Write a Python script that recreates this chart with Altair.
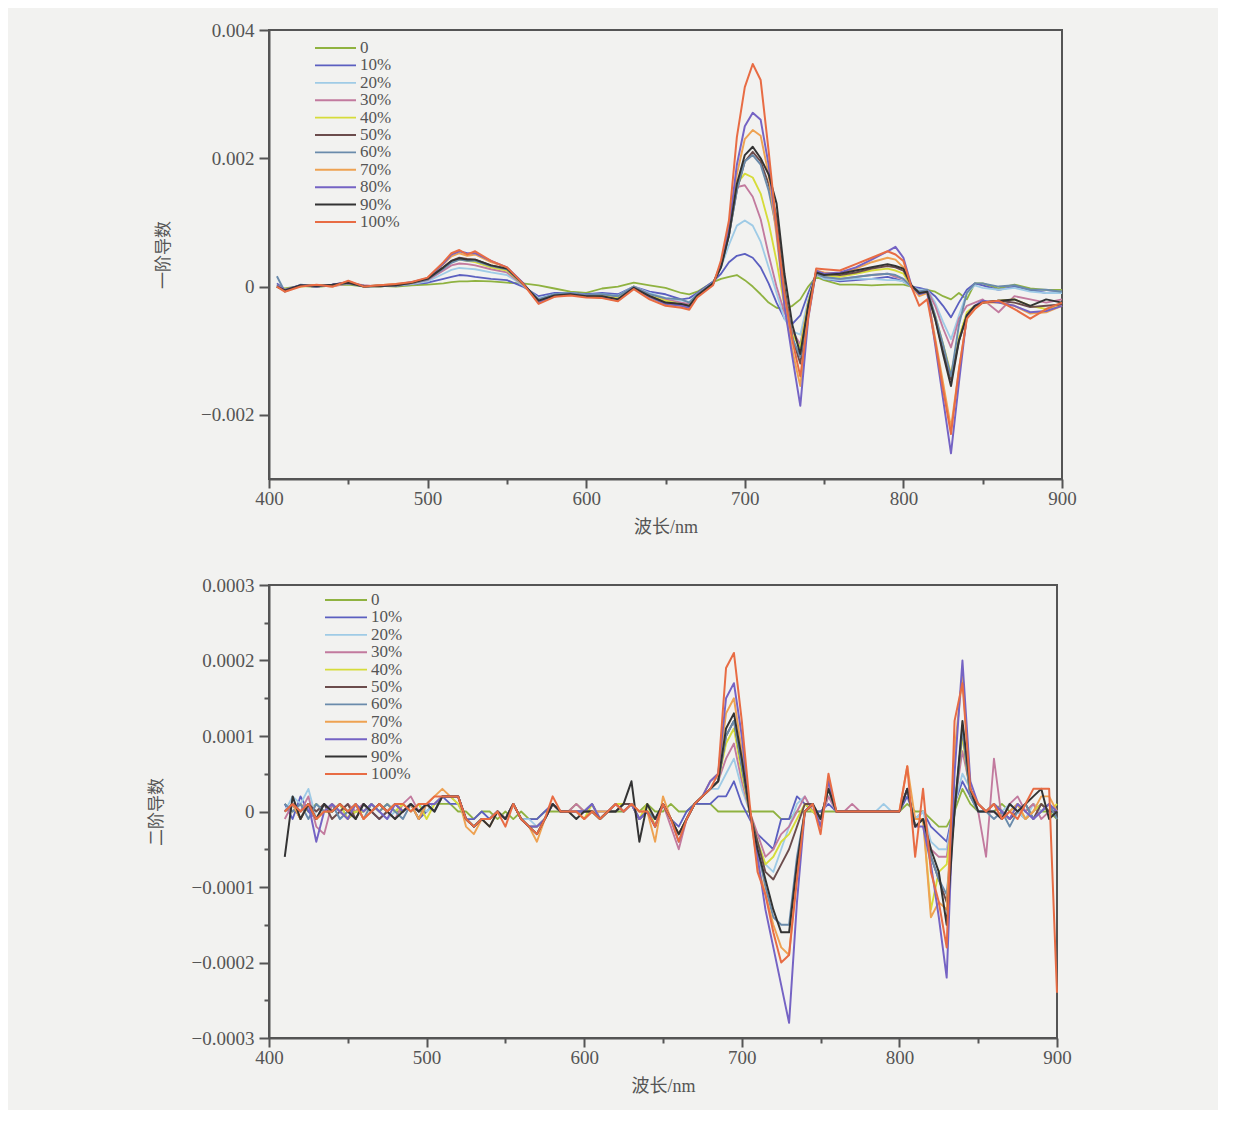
import altair as alt
import pandas as pd

# ---------------- series ----------------
series = ["0", "10%", "20%", "30%", "40%", "50%", "60%", "70%", "80%", "90%", "100%"]
colors = ["#8fb240", "#5b5fc0", "#9fcbe6", "#c27a9e", "#d6dc3a", "#6b4c4c",
          "#6a8bab", "#eea252", "#7563c4", "#333333", "#e86c44"]
widths = [1.8, 2.0, 1.8, 1.8, 1.8, 2.8, 2.0, 2.0, 2.2, 3.0, 2.0]

# ---------------- first derivative (units of 1e-5) ----------------
wl_top = [405, 410, 420, 430, 440, 450, 460, 470, 480, 490,
          500, 510, 515, 520, 525, 530,
          540, 550, 560, 570, 580, 590, 600, 610, 620, 630, 640, 650, 660,
          665, 670, 680,
          685, 690, 695, 700, 705, 710, 715, 720, 725, 730, 735, 740, 745,
          750, 760, 770, 780, 790,
          795, 800, 805, 810, 815, 820, 825, 830, 835, 840, 845, 850,
          860, 870, 880, 890, 900]

t0 = [2, -3, 1, -1, 2, 3, 0, 1, 0, 2, 3, 5, 7, 8, 8, 9,
      8, 6, 5, 2, -3, -8, -10, -3, 0, 6, 2, -2, -10, -12, -8, 7,
      12, 15, 18, 10, 0, -12, -25, -33, -35, -30, -20, 0, 15, 10, 3, 3, 2, 3,
      3, 3, 0, -5, -5, -8, -15, -20, -10, -20, 5, 5, -3, 3, -3, -5, -5]
t10 = [5, -5, 2, 0, 3, 5, 0, 2, 1, 4, 6, 12, 15, 18, 17, 15,
       12, 10, 0, -15, -10, -10, -12, -10, -12, 0, -8, -12, -20, -18, -10, 8,
       20, 38, 48, 51, 45, 30, 5, -25, -50, -58, -45, -10, 20, 12, 8, 10, 12, 15,
       12, 8, 0, -2, -5, -15, -30, -48, -25, -5, 5, 2, -5, 0, -5, -10, -8]
t20 = [0, -6, 2, 0, 2, 6, 0, 1, 2, 4, 8, 20, 26, 29, 28, 27,
       22, 18, 2, -18, -12, -10, -13, -12, -14, 0, -10, -18, -22, -24, -12, 6,
       30, 65, 95, 103, 95, 70, 30, -10, -50, -70, -75, -20, 20, 12, 10, 12, 12, 10,
       10, 8, 0, -5, -5, -25, -55, -82, -45, -10, 2, -2, -5, -2, -8, -10, -10]
t30 = [0, -5, 1, 2, 0, 5, 2, 0, 3, 5, 10, 25, 33, 36, 35, 33,
       27, 22, 3, -20, -13, -12, -15, -13, -16, 0, -12, -20, -25, -27, -12, 5,
       35, 95, 155, 158, 140, 105, 50, 0, -40, -70, -90, -25, 20, 15, 12, 15, 18, 20,
       15, 12, 0, -8, -5, -30, -65, -95, -50, -30, -25, -20, -40, -15, -20, -25, -20]
t40 = [2, -4, 0, 2, 1, 6, 1, 0, 3, 6, 12, 30, 38, 42, 40, 38,
       30, 25, 4, -22, -14, -12, -15, -15, -18, 0, -14, -22, -28, -30, -13, 5,
       35, 85, 160, 176, 170, 145, 100, 40, -30, -75, -95, -25, 22, 18, 15, 20, 25, 28,
       25, 20, 0, -10, -8, -45, -90, -136, -80, -40, -30, -25, -22, -20, -30, -35, -30]
t50 = [0, -6, 2, 0, 3, 7, 0, 2, 2, 6, 12, 30, 40, 45, 43, 42,
       33, 28, 5, -23, -15, -12, -15, -16, -20, -2, -15, -25, -28, -32, -14, 5,
       32, 80, 150, 195, 210, 195, 160, 110, 0, -80, -120, -30, 22, 20, 18, 22, 28, 32,
       30, 25, 2, -10, -8, -50, -100, -145, -85, -45, -30, -25, -22, -25, -32, -30, -28]
t60 = [16, -8, 3, 1, 2, 5, 1, 0, 3, 5, 11, 28, 37, 42, 40, 40,
       32, 27, 4, -20, -12, -10, -13, -12, -15, 0, -12, -18, -20, -25, -12, 5,
       32, 80, 150, 195, 205, 190, 150, 90, -10, -80, -110, -30, 20, 15, 12, 15, 18, 20,
       18, 12, 0, -8, -5, -45, -90, -140, -60, -10, 5, 5, 0, 2, -5, -5, -8]
t70 = [0, -7, 1, 2, 0, 8, 0, 2, 4, 6, 13, 35, 47, 52, 48, 50,
       38, 30, 5, -25, -15, -13, -16, -17, -22, -3, -17, -28, -30, -34, -15, 4,
       33, 85, 175, 230, 244, 235, 175, 80, -30, -100, -155, -45, 25, 22, 20, 28, 38, 45,
       42, 30, 0, -15, -10, -80, -150, -220, -130, -50, -35, -25, -25, -30, -42, -40, -30]
t80 = [2, -5, 2, 0, 3, 7, 1, 1, 3, 7, 13, 36, 50, 55, 52, 52,
       40, 30, 6, -25, -15, -12, -15, -17, -20, -2, -16, -27, -30, -33, -15, 4,
       35, 90, 190, 250, 271, 260, 190, 90, -30, -110, -186, -50, 25, 20, 22, 30, 42, 55,
       62, 45, 2, -12, -8, -90, -175, -260, -150, -45, -30, -22, -25, -30, -40, -38, -30]
t90 = [0, -6, 2, 1, 3, 6, 0, 1, 2, 6, 12, 30, 40, 44, 42, 42,
       33, 28, 5, -22, -14, -12, -15, -15, -20, -2, -15, -25, -27, -30, -14, 5,
       30, 80, 160, 205, 218, 200, 175, 130, 20, -60, -105, -30, 22, 18, 20, 25, 30, 35,
       32, 28, 2, -10, -8, -50, -105, -155, -85, -45, -30, -25, -22, -20, -30, -20, -25]
t100 = [0, -8, 0, 3, 0, 9, 0, 2, 4, 7, 14, 38, 52, 57, 50, 55,
        40, 30, 5, -27, -16, -14, -17, -18, -23, -4, -20, -30, -33, -36, -17, 2,
        41, 103, 233, 311, 347, 322, 212, 93, -11, -84, -140, -48, 28, 27, 25, 35, 45, 55,
        50, 40, 0, -30, -20, -85, -160, -230, -130, -50, -35, -25, -22, -35, -50, -35, -25]
top_vals = [t0, t10, t20, t30, t40, t50, t60, t70, t80, t90, t100]

# ---------------- second derivative (units of 1e-5) ----------------
wl_bottom = [410, 415, 420, 425, 430, 435, 440, 445, 450, 455,
             460, 465, 470, 475, 480, 485, 490, 495, 500, 505,
             510, 515, 520, 525, 530, 535, 540, 545, 550, 555,
             560, 565, 570, 575, 580, 585, 590, 595, 600, 605,
             610, 615, 620, 625, 630, 635, 640, 645, 650, 655,
             660, 665, 670, 675, 680, 685, 690, 695, 700, 705,
             710, 715, 720, 725, 730, 735, 740, 745, 750, 755,
             760, 765, 770, 775, 780, 785, 790, 795, 800, 805,
             810, 815, 820, 825, 830, 835, 840, 845, 850, 855,
             860, 865, 870, 875, 880, 885, 890, 895, 900]

b0 = [1, 0, 1, 0, 1, 0, 0, 1, 0, 0,
      0, 1, 0, 1, 0, 0, 1, 0, 0, 1,
      1, 1, 0, 0, -1, 0, 0, -1, 0, -1,
      0, -1, -1, 0, 0, 0, 0, 1, 0, 0,
      -1, 0, 0, 0, 1, 0, 1, 0, 0, 1,
      0, 0, 1, 1, 1, 0, 0, 0, 0, 0,
      0, 0, 0, -1, -1, 0, 0, 0, 0, 0,
      0, 0, 0, 0, 0, 0, 0, 0, 0, 1,
      0, 0, -1, -2, -2, 0, 3, 1, 0, 0,
      0, 1, 0, 1, 0, 1, 0, 0, -1]
b10 = [1, -1, 2, 0, -1, 1, 0, 1, -1, 0,
       1, 0, -1, 0, 1, 0, 1, -1, 0, 1,
       2, 1, 1, -1, -1, 0, -1, 0, -1, 1,
       -1, -1, -1, 0, 1, 0, 0, 0, -1, 0,
       0, 0, 1, 0, 1, -1, 0, -1, 1, -1,
       -2, 0, 1, 1, 1, 2, 2, 4, 1, -1,
       -3, -4, -5, -1, -1, 2, 1, 0, 0, 1,
       0, 0, 0, 0, 0, 0, 0, 0, 0, 2,
       -1, 0, -2, -3, -4, 1, 4, 2, 0, 0,
       0, -1, 1, 0, -1, 0, 1, 0, 0]
b20 = [0, 2, 1, 3, -1, 0, 1, -1, 0, 1,
       0, 1, 0, -1, 0, 1, 0, 1, 0, 1,
       2, 2, 1, -1, -2, -1, -1, 0, -1, 1,
       -1, -1, -2, -1, 1, 0, 0, 0, 0, 1,
       -1, 0, 0, 1, 1, -1, 0, -2, 1, -1,
       -3, -1, 1, 2, 3, 3, 5, 7, 3, 0,
       -4, -7, -8, -5, -2, 1, 2, 0, -1, 2,
       0, 0, 0, 0, 0, 0, 1, 0, 0, 3,
       -1, 0, -4, -5, -5, 1, 5, 3, 0, 0,
       1, 0, 1, 0, -1, 1, 0, 1, 0]
b30 = [-1, 1, 0, 2, -2, -3, 1, 0, 1, 0,
       1, 0, 1, 0, -1, 1, 2, 0, 1, 1,
       2, 2, 2, -1, -2, -1, -1, 0, -1, 1,
       -1, -2, -2, -1, 1, 0, 0, 1, 0, 1,
       -1, 0, 1, 0, 1, -1, 0, -2, 1, -2,
       -5, -1, 1, 2, 3, 4, 7, 9, 4, 0,
       -3, -6, -5, -3, -2, 0, 2, 0, -1, 2,
       0, 0, 1, 0, 0, 0, 0, 0, 0, 3,
       -2, -1, -5, -6, -6, 1, 8, 3, 0, -6,
       7, -1, 1, 2, 0, 1, -1, 0, 0]
b40 = [0, 1, 0, 1, -1, 0, 0, 1, -1, 0,
       0, 1, 0, 1, 0, 1, 0, 1, -1, 1,
       2, 2, 1, -1, -2, -1, -1, 0, -1, 1,
       -1, -2, -2, -1, 1, 0, 0, 0, -1, 1,
       -1, 0, 1, 1, 1, -1, 1, -2, 1, -1,
       -3, -1, 1, 2, 3, 4, 9, 11, 5, 0,
       -4, -7, -6, -4, -3, -1, 1, 0, -1, 3,
       0, 0, 0, 0, 0, 0, 0, 0, 0, 3,
       -2, -1, -13, -8, -7, 1, 10, 2, 1, 0,
       1, 0, -1, 1, -1, 0, 1, 0, 1]
b50 = [0, 1, -1, 1, 0, 1, -1, 0, 1, -1,
       1, 0, -1, 0, 1, 0, 1, -1, 1, 0,
       2, 2, 2, -1, -2, -1, -1, 0, -1, 1,
       -1, -2, -3, -1, 1, 0, 0, 0, 0, 0,
       -1, 0, 0, 1, 1, -1, 0, -2, 1, -1,
       -3, -1, 1, 2, 3, 4, 10, 12, 6, 0,
       -4, -8, -9, -7, -5, -2, 1, 1, -1, 3,
       0, 0, 0, 0, 0, 0, 0, 0, 0, 3,
       -2, -1, -6, -9, -12, 0, 11, 2, 1, 0,
       1, 0, -1, 0, 1, -1, 1, 0, 0]
b60 = [1, 0, 1, -1, 1, 0, 1, -1, 0, 1,
       -1, 1, 0, 1, 0, -1, 1, 0, 1, 0,
       2, 2, 2, -1, -2, -1, -1, 0, -1, 1,
       -1, -2, -2, -1, 1, 0, 0, 0, 0, 1,
       -1, 0, 1, 0, 1, -1, 0, -1, 1, -1,
       -3, -1, 1, 2, 3, 4, 10, 12, 6, 0,
       -5, -10, -14, -15, -15, -6, 0, 1, -1, 3,
       0, 0, 0, 0, 0, 0, 0, 0, 0, 3,
       -2, -1, -6, -9, -11, 0, 11, 2, 0, 0,
       -1, 0, -2, 0, 1, -1, 0, 1, -1]
b70 = [0, 1, -1, 1, -1, 0, 1, 0, -1, 1,
       -1, 0, 1, 0, 1, 0, 1, -1, 1, 2,
       3, 2, 2, -2, -3, -1, -2, 0, -1, 1,
       -1, -2, -4, -1, 1, 0, 0, 0, -1, 0,
       0, 0, 1, 0, 1, 0, 0, -4, 2, -1,
       -3, -1, 1, 2, 4, 5, 13, 15, 8, 0,
       -7, -11, -15, -18, -19, -8, 0, 1, -2, 4,
       0, 0, 0, 0, 0, 0, 0, 0, 0, 6,
       -1, -1, -14, -12, -13, 8, 18, 3, 1, 0,
       1, -1, 0, 1, -1, 0, 2, 2, 0]
b80 = [0, 1, 0, 1, -4, 0, 1, 0, -1, 1,
       0, 1, 0, -1, 1, 0, 1, 0, 1, 1,
       2, 2, 2, -1, -2, -1, -1, 0, -1, 1,
       -1, -2, -2, -1, 1, 0, 0, 0, 0, 1,
       -1, 0, 1, 0, 1, -1, 0, -2, 1, -1,
       -4, -1, 1, 2, 4, 5, 15, 17, 10, 0,
       -6, -13, -18, -23, -28, -12, 0, 1, -2, 4,
       0, 0, 0, 0, 0, 0, 0, 0, 0, 3,
       -2, -2, -7, -14, -22, 5, 20, 4, 1, 0,
       1, 0, -1, 1, 0, -1, 0, 1, 0]
b90 = [-6, 2, -1, 1, -1, 1, 0, 1, 0, -1,
       1, 0, 1, 0, -1, 0, 1, 0, 1, 0,
       2, 2, 2, -1, -2, -1, -2, 0, -1, 1,
       -1, -2, -3, -1, 1, 0, 0, -1, 0, 0,
       -1, 0, 0, 1, 4, -4, 1, -1, 1, -1,
       -3, -1, 1, 2, 3, 4, 11, 13, 7, 0,
       -5, -9, -13, -16, -16, -7, 0, 1, -1, 3,
       0, 0, 0, 0, 0, 0, 0, 0, 0, 3,
       -2, -1, -5, -8, -15, 0, 12, 3, 0, 0,
       0, -1, 1, 0, 1, 2, 3, -1, 0]
b100 = [0, 1, 0, 1, -1, 0, 0, 1, 0, 1,
        -1, 0, 1, 0, 1, 1, 0, 1, 1, 2,
        2, 2, 2, -1, -2, -1, -1, 0, -2, 1,
        -1, -2, -3, -1, 2, 0, 0, 0, -1, 0,
        -1, 0, 1, 0, 1, 0, 0, -2, 1, -1,
        -4, -1, 1, 2, 3, 5, 19, 21, 12, 1,
        -8, -11, -16, -20, -19, -9, 0, 1, -3, 5,
        0, 0, 0, 0, 0, 0, 0, 0, 0, 6,
        -6, 3, -8, -12, -18, 12, 17, 3, 1, 0,
        1, -1, 0, -1, 1, 3, 3, 3, -24]
bottom_vals = [b0, b10, b20, b30, b40, b50, b60, b70, b80, b90, b100]

# ---------------- axis tick values and labels ----------------
x_ticks = [400, 450, 500, 550, 600, 650, 700, 750, 800, 850, 900]
y_ticks_top = [-0.002, 0, 0.002, 0.004]
y_ticks_bottom = [-0.0003, -0.00025, -0.0002, -0.00015, -0.0001, -0.00005, 0,
                  0.00005, 0.0001, 0.00015, 0.0002, 0.00025, 0.0003]
x_title = "波长/nm"
y_title_top = "一阶导数"
y_title_bottom = "二阶导数"

SERIF = "Liberation Serif"
MIXED = "Liberation Serif, Noto Sans CJK SC"
AX = "#555555"


def long_df(wl, vals):
    rows = []
    for k, s in enumerate(series):
        for w, v in zip(wl, vals[k]):
            rows.append({"wl": w, "value": v * 1e-5, "series": s, "k": k})
    return pd.DataFrame(rows)


color_enc = alt.Color("series:N", scale=alt.Scale(domain=series, range=colors), legend=None)
width_enc = alt.StrokeWidth("series:N", scale=alt.Scale(domain=series, range=widths), legend=None)

x_axis = alt.Axis(
    values=x_ticks,
    labelExpr="datum.value % 100 === 0 ? format(datum.value, 'd') : ''",
    tickSize={"condition": {"test": "datum.value % 100 === 0", "value": 9}, "value": 5},
    title=x_title, titleFont=MIXED, titleFontSize=18, titleFontWeight="normal",
    titleColor=AX, titlePadding=10,
    labelFont=SERIF, labelFontSize=19, labelColor=AX, labelPadding=1,
    labelFlush=False, labelOverlap=False,
    domainColor=AX, domainWidth=2, tickColor=AX, tickWidth=2, grid=False,
)


def panel(df, ydom, yaxis, w, h, leg_y0, leg_x0, leg_x1, leg_tx):
    lines = alt.Chart(df).mark_line(strokeJoin="round").encode(
        x=alt.X("wl:Q", scale=alt.Scale(domain=[400, 900], nice=False, zero=False), axis=x_axis),
        y=alt.Y("value:Q", scale=alt.Scale(domain=ydom, nice=False, zero=False), axis=yaxis),
        color=color_enc,
        strokeWidth=width_enc,
        detail="k:O",
    )
    leg_df = pd.DataFrame({"series": series})
    ysc = alt.Scale(type="point", domain=series, range=[leg_y0, leg_y0 + 174], padding=0)
    rules = alt.Chart(leg_df).mark_rule().encode(
        x=alt.value(leg_x0), x2=alt.value(leg_x1),
        y=alt.Y("series:N", scale=ysc, axis=None),
        color=color_enc, strokeWidth=width_enc,
    )
    texts = alt.Chart(leg_df).mark_text(
        align="left", baseline="middle", font=SERIF, fontSize=17, color=AX
    ).encode(
        x=alt.value(leg_tx),
        y=alt.Y("series:N", scale=ysc, axis=None),
        text="series:N",
    )
    return alt.layer(lines, rules, texts).resolve_scale(y="independent").properties(width=w, height=h)


y_axis_top = alt.Axis(
    values=y_ticks_top,
    labelExpr="datum.value == 0 ? '0' : format(datum.value, '.3f')",
    tickSize=10,
    title=y_title_top, titleFont=MIXED, titleFontSize=17, titleFontWeight="normal",
    titleColor=AX, titlePadding=28,
    labelFont=SERIF, labelFontSize=19, labelColor=AX, labelPadding=5,
    labelOverlap=False,
    domainColor=AX, domainWidth=2, tickColor=AX, tickWidth=2, grid=False,
)

major_b = "abs(datum.value*10000 - round(datum.value*10000)) < 1e-6"
y_axis_bottom = alt.Axis(
    values=y_ticks_bottom,
    labelExpr=f"{major_b} ? (datum.value == 0 ? '0' : format(datum.value, '.4f')) : ''",
    tickSize={"condition": {"test": major_b, "value": 10}, "value": 5},
    title=y_title_bottom, titleFont=MIXED, titleFontSize=17, titleFontWeight="normal",
    titleColor=AX, titlePadding=26,
    labelFont=SERIF, labelFontSize=19, labelColor=AX, labelPadding=5,
    labelOverlap=False,
    domainColor=AX, domainWidth=2, tickColor=AX, tickWidth=2, grid=False,
)

top = panel(long_df(wl_top, top_vals), [-0.003, 0.004], y_axis_top, 793, 449, 18, 46, 87, 91)
bottom = panel(long_df(wl_bottom, bottom_vals), [-0.0003, 0.0003], y_axis_bottom, 788, 453, 15, 56, 98, 102)

chart = alt.vconcat(top, bottom, spacing=38).properties(
    padding={"left": 138, "top": 12, "right": 140, "bottom": 14},
    background="#f2f2f0",
).configure_view(stroke=AX, strokeWidth=2)

chart.save("out.html", embed_options={"renderer": "svg", "actions": False})
